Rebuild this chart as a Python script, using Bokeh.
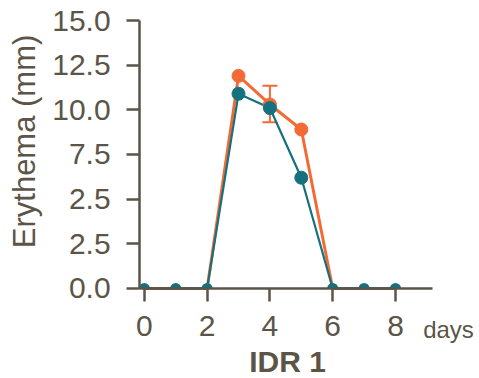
import math
from bokeh.plotting import figure
from bokeh.models import Range1d, FixedTicker, Whisker, ColumnDataSource
from bokeh.core.properties import value
from bokeh.embed import file_html
from bokeh.resources import INLINE

# data
days = [0, 1, 2, 3, 4, 5, 6, 7, 8]
orange_vals = [0, 0, 0, 11.9, 10.3, 8.9, 0, 0, 0]
teal_vals = [0, 0, 0, 10.9, 10.1, 6.2, 0, 0, 0]
err_day = [4]
err_upper = [11.35]
err_lower = [9.3]
y_ticks = [0, 2.5, 5, 7.5, 10, 12.5, 15]
y_tick_labels = ["0.0", "2.5", "2.5", "7.5", "10.0", "12.5", "15.0"]
x_ticks = [0, 2, 4, 6, 8]

ORANGE = "#f26a36"
TEAL = "#16717e"
INK = "#5b5548"
FONT = "Liberation Sans"

p = figure(width=479, height=378, output_backend="svg", toolbar_location=None,
           x_range=Range1d(-4.58, 10.675), y_range=Range1d(-5.04, 16.12),
           min_border=0)
p.outline_line_color = None
p.xgrid.visible = False
p.ygrid.visible = False
p.background_fill_color = "white"
p.border_fill_color = "white"

for ax in (p.xaxis[0], p.yaxis[0]):
    ax.axis_line_color = INK
    ax.axis_line_width = 2.5
    ax.major_tick_line_color = INK
    ax.major_tick_line_width = 2.5
    ax.major_tick_out = 13
    ax.major_tick_in = 0
    ax.minor_tick_line_color = None
    ax.major_label_text_color = INK
    ax.major_label_text_font = FONT
    ax.major_label_text_font_size = "30px"

p.xaxis.ticker = FixedTicker(ticks=x_ticks)
p.xaxis.major_label_standoff = 15
p.xaxis.fixed_location = 0
p.xaxis.bounds = (-0.15, 9.18)
p.yaxis.ticker = FixedTicker(ticks=y_ticks)
p.yaxis.major_label_overrides = {t: l for t, l in zip(y_ticks, y_tick_labels)}
p.yaxis.major_label_standoff = 16
p.yaxis.fixed_location = -0.15
p.yaxis.bounds = (0, 15)

src = ColumnDataSource(dict(x=days, o=orange_vals, t=teal_vals))
p.line("x", "o", source=src, line_color=ORANGE, line_width=3)
p.line("x", "t", source=src, line_color=TEAL, line_width=2.2)

# points above zero as full circles, points at zero as half discs (cut by the axis)
pos_o = ColumnDataSource(dict(x=[d for d, v in zip(days, orange_vals) if v > 0],
                              y=[v for v in orange_vals if v > 0]))
pos_t = ColumnDataSource(dict(x=[d for d, v in zip(days, teal_vals) if v > 0],
                              y=[v for v in teal_vals if v > 0]))
zero_t = ColumnDataSource(dict(x=[d for d, v in zip(days, teal_vals) if v == 0],
                               y=[v for v in teal_vals if v == 0]))
p.scatter("x", "y", source=pos_o, size=13, fill_color=ORANGE, line_color=ORANGE)
p.scatter("x", "y", source=pos_t, size=13, fill_color=TEAL, line_color=TEAL)
p.wedge("x", "y", source=zero_t, radius=5.5, radius_units="screen",
        start_angle=0, end_angle=math.pi, fill_color=TEAL, line_color=None)

esrc = ColumnDataSource(dict(base=err_day, upper=err_upper, lower=err_lower))
w = Whisker(base="base", upper="upper", lower="lower", source=esrc,
            line_color=ORANGE, line_width=2)
for h in (w.upper_head, w.lower_head):
    h.size = 15
    h.line_color = ORANGE
    h.line_width = 2
p.add_layout(w)

txt = dict(text_font=value(FONT), text_color=INK)
p.text(x=[-3.82], y=[8.23], text=["Erythema (mm)"], angle=math.pi / 2,
       text_align="center", text_baseline="middle", text_font_size="31px", **txt)
p.text(x=[8.88], y=[-2.3], text=["days"], text_align="left",
       text_baseline="alphabetic", text_font_size="24px", **txt)
p.text(x=[4.56], y=[-4.09], text=["IDR 1"], text_align="center",
       text_baseline="alphabetic", text_font_style="bold", text_font_size="30px", **txt)

open("out.html", "w").write(file_html(p, INLINE))
